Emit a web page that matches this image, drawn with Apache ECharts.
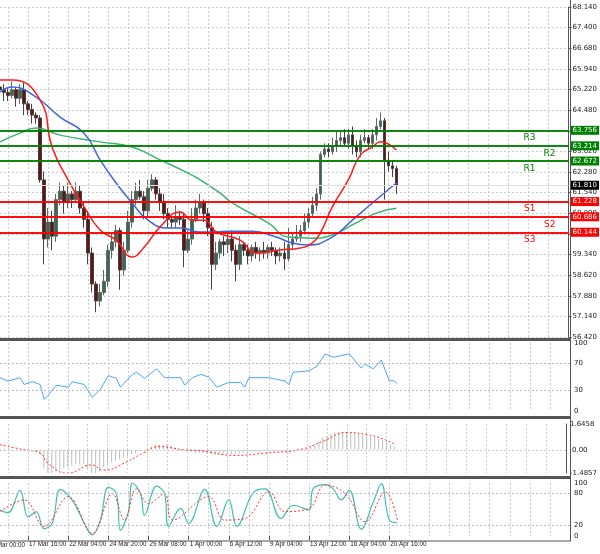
<!DOCTYPE html>
<html><head><meta charset="utf-8">
<script src="https://cdn.jsdelivr.net/npm/echarts@6/dist/echarts.min.js"></script>
<style>html,body{margin:0;padding:0;background:#fff}#c{width:600px;height:554px}</style>
</head><body><div id="c"></div>
<script>
const priceTicks=['56.420','57.140','57.880','58.620','59.340','60.060','60.800','61.540','62.280','63.020','63.740','64.480','65.220','65.940','66.680','67.400','68.140'];
const firstDateLabel='16 Mar 00:00';
const dateLabels=['17 Mar 16:00','22 Mar 04:00','24 Mar 20:00','29 Mar 08:00','1 Apr 00:00','6 Apr 12:00','9 Apr 04:00','13 Apr 12:00','16 Apr 04:00','20 Apr 16:00'];
const dateIdx=[7,17,27,37,47,57,67,77,87,97];
const firstOpen=65.3;
const closes=[65.2,65.1,65.0,65.2,64.9,65.2,64.7,64.5,64.3,64.2,62.0,59.9,60.5,60.0,61.3,61.6,61.2,61.5,61.3,61.6,61.0,60.6,59.4,58.3,57.7,58.0,58.4,59.5,59.8,60.2,58.8,59.5,60.5,61.3,61.6,61.4,60.9,61.7,62.0,61.5,61.2,60.8,60.6,60.5,60.7,60.6,59.5,59.9,60.6,61.0,61.2,60.8,60.3,59.0,59.4,59.8,59.7,59.9,59.5,59.0,59.7,59.5,59.3,59.6,59.4,59.5,59.4,59.6,59.5,59.3,59.4,59.2,59.7,59.9,60.0,60.2,60.5,60.8,61.1,61.5,62.9,63.1,63.0,63.2,63.4,63.5,63.3,63.6,63.2,63.0,63.4,63.5,63.3,63.6,63.9,64.1,62.7,62.5,62.4,61.8];
const wickUp=[0.1,0.2,0.15,0.3,0.1,0.2,0.25,0.1,0.2,0.1,0.1,0.3,0.5,0.4,0.2,0.3,0.2,0.4,0.1,0.3,0.2,0.2,0.3,0.2,0.1,0.3,0.4,0.2,0.3,0.2,0.1,0.3,0.4,0.3,0.3,0.4,0.2,0.3,0.2,0.1,0.2,0.3,0.2,0.1,0.4,0.2,0.2,0.3,0.4,0.3,0.3,0.1,0.2,0.2,0.4,0.1,0.2,0.2,0.3,0.2,0.3,0.1,0.2,0.1,0.2,0.1,0.3,0.1,0.2,0.1,0.2,0.4,0.6,0.2,0.4,0.2,0.3,0.2,0.3,0.2,0.1,0.2,0.2,0.3,0.3,0.2,0.3,0.2,0.3,0.2,0.2,0.3,0.1,0.2,0.3,0.3,0.1,0.3,0.2,0.1];
const wickDn=[0.2,0.3,0.2,0.1,0.3,0.2,0.4,0.2,0.3,0.2,0.1,0.9,0.3,0.5,0.2,0.2,0.4,0.2,0.3,0.1,0.2,0.3,0.4,0.3,0.4,0.2,0.1,0.2,0.3,0.2,0.7,0.2,0.1,0.2,0.2,0.1,0.3,0.2,0.1,0.2,0.3,0.2,0.3,0.2,0.2,0.2,0.6,0.1,0.2,0.1,0.2,0.3,0.3,0.9,0.2,0.2,0.4,0.3,0.4,0.6,0.2,0.2,0.3,0.2,0.2,0.3,0.2,0.2,0.2,0.3,0.2,0.4,0.1,0.2,0.1,0.2,0.1,0.2,0.1,0.2,0.2,0.1,0.2,0.1,0.2,0.2,0.1,0.2,0.3,0.2,0.2,0.1,0.2,0.2,0.2,0.1,1.4,0.2,0.3,0.3];
const maFast=[[0,65.55],[3,65.55],[10,64.84],[13,63.17],[17,62.0],[21,61.04],[25,60.22],[29,59.86],[33,59.26],[36,59.61],[40,60.33],[45,60.86],[48,60.57],[51,60.57],[54,60.15],[60,59.86],[64,59.4],[70,59.51],[75,59.58],[78,59.76],[80,60.11],[83,61.04],[87,62.0],[90,62.88],[93,63.17],[95,63.35],[99,63.06]];
const maMid=[[0,65.12],[3,65.3],[9,64.94],[15,64.23],[21,63.66],[25,62.71],[29,61.89],[33,61.18],[37,60.57],[42,60.29],[45,60.29],[50,60.15],[54,60.15],[57,60.18],[63,60.18],[69,59.97],[73,59.76],[77,59.69],[83,59.97],[88,60.57],[93,61.18],[99,61.89]];
const maSlow=[[0,63.35],[5,63.66],[9,63.84],[15,63.59],[25,63.35],[33,63.17],[40,62.71],[47,62.24],[50,62.0],[55,61.53],[58,61.18],[67,60.47],[72,59.97],[78,59.93],[83,60.04],[88,60.4],[94,60.82],[99,60.99]];
const levels=[['R3',63.756,'#008000',30],['R2',63.214,'#008000',10],['R1',62.672,'#008000',30],['S1',61.228,'#ff0000',30],['S2',60.686,'#ff0000',10],['S3',60.144,'#ff0000',30]];
const lastPrice=61.81;
const rsi=[[0,49],[2,44],[5,49],[6,39],[8,43],[10,39],[11,17],[12,23],[14,38],[17,35],[18,43],[21,39],[23,20],[25,32],[27,52],[29,48],[30,35],[33,54],[34,57],[36,48],[39,62],[41,49],[45,49],[46,38],[48,49],[50,54],[52,50],[54,35],[57,42],[60,42],[61,35],[62,49],[67,49],[71,44],[72,39],[73,57],[77,59],[79,66],[81,84],[83,79],[87,84],[90,63],[91,69],[93,62],[95,75],[97,44],[98,45],[99,40]];
const macdHist=[0.1,0.1,0.05,0.05,0,0,-0.05,-0.1,-0.1,-0.15,-0.3,-1.2,-1.5,-1.5,-1.4,-1.3,-1.2,-1.1,-1.0,-0.9,-0.95,-0.9,-1.2,-1.5,-1.5,-1.4,-1.1,-0.9,-0.8,-0.7,-0.6,-0.5,-0.4,-0.3,-0.2,-0.1,0,0.1,0.2,0.35,0.35,0.3,0.3,0.25,0.15,0.05,0,-0.1,-0.15,-0.2,-0.2,-0.2,-0.25,-0.3,-0.3,-0.3,-0.3,-0.3,-0.3,-0.25,-0.25,-0.2,-0.2,-0.15,-0.15,-0.15,-0.1,-0.1,-0.1,-0.1,-0.1,-0.1,-0.1,-0.05,0,0,0.05,0.1,0.2,0.3,0.5,0.8,0.9,1.0,1.1,1.1,1.1,1.1,1.1,1.05,1.0,0.95,0.9,0.85,0.8,0.7,0.6,0.5,0.35,0.2];
const macdSignal=[[0,0.32],[6,0],[10,-0.2],[12,-0.85],[17,-1.5],[23,-0.97],[26,-1.3],[32,-0.75],[36,-0.2],[40,0.2],[46,0],[50,-0.05],[59,-0.36],[67,-0.2],[75,0],[81,0.54],[87,1.1],[92,0.97],[96,0.7],[99,0.36]];
const stochMain=[[0,49],[2,44],[5,86],[7,36],[9,46],[11,14],[13,24],[15,88],[17,77],[19,55],[21,24],[23,2],[25,30],[27,92],[29,80],[30,11],[32,46],[33,100],[35,80],[36,39],[39,94],[41,80],[42,18],[45,52],[47,24],[51,88],[54,18],[57,68],[59,18],[63,81],[66,89],[70,33],[73,58],[77,49],[78,89],[81,97],[83,89],[85,68],[87,86],[90,13],[93,64],[95,99],[97,30],[99,25]];
const stochSig=[[0,46],[6,68],[11,18],[17,74],[23,5],[28,80],[31,30],[34,89],[37,61],[41,80],[43,30],[52,74],[56,30],[61,33],[67,83],[71,46],[77,52],[81,96],[86,80],[91,27],[96,83],[99,30]];

const N=143;
const cats=[];for(let i=0;i<N;i++){const k=dateIdx.indexOf(i);cats.push(k>=0?dateLabels[k]:'c'+i);}
const ohlc=closes.map((c,i)=>{const o=i===0?firstOpen:closes[i-1];return [o,c,Math.min(o,c)-wickDn[i],Math.max(o,c)+wickUp[i]];});
const sparse=(arr)=>{const d=new Array(closes.length).fill(null);arr.forEach(([i,v])=>d[i]=v);return d;};
const F='DejaVu Sans';
const FX='Liberation Sans';
const grids=[{top:7,height:330},{top:343,height:68},{top:424,height:49},{top:483,height:53}].map(g=>({left:0,right:30,top:g.top,height:g.height}));
const xAxes=grids.map((g,k)=>({type:'category',gridIndex:k,data:cats,boundaryGap:false,
 axisLine:{show:false},axisTick:{show:k===3,interval:(i)=>dateIdx.indexOf(i)>=0,length:4,lineStyle:{color:'#555'}},
 axisLabel:{show:k===3,interval:(i)=>dateIdx.indexOf(i)>=0,fontSize:6.3,fontFamily:FX,color:'#222',margin:5,align:'left',padding:[0,0,0,1],hideOverlap:false},
 splitLine:{show:true,interval:(i)=>i%5===2,lineStyle:{color:'#ccc',type:[2,2],width:1}}}));
const yAxes=[
 {gridIndex:0,type:'value',position:'right',min:56.42,max:68.14,interval:0.7325,
  axisLabel:{fontSize:7,fontFamily:F,color:'#222',margin:4,formatter:(v)=>{const k=Math.round((v-56.42)/0.7325);return priceTicks[k]||'';}},
  axisLine:{show:true,lineStyle:{color:'#555'}},axisTick:{show:true,length:3,lineStyle:{color:'#555'}},
  splitLine:{lineStyle:{color:'#ccc',type:[2,2]}}},
 {gridIndex:1,type:'value',position:'right',min:0,max:100,interval:10,
  axisLabel:{fontSize:7,fontFamily:F,color:'#222',margin:4,formatter:(v)=>[0,30,70,100].includes(v)?String(v):''},
  axisLine:{show:true,lineStyle:{color:'#555'}},axisTick:{show:false},splitLine:{show:false}},
 {gridIndex:2,type:'value',position:'right',min:-1.4857,max:1.6458,interval:3.1315,
  axisLabel:{fontSize:7,fontFamily:F,color:'#222',margin:4,formatter:(v)=>v.toFixed(4)},
  axisLine:{show:true,lineStyle:{color:'#555'}},axisTick:{show:false},splitLine:{show:false}},
 {gridIndex:3,type:'value',position:'right',min:0,max:100,interval:10,
  axisLabel:{fontSize:7,fontFamily:F,color:'#222',margin:4,formatter:(v)=>[0,20,80,100].includes(v)?String(v):''},
  axisLine:{show:true,lineStyle:{color:'#555'}},axisTick:{show:false},splitLine:{show:false}}
];
const tagLine=[];
levels.forEach(([n,v,c,pad])=>{
 tagLine.push({yAxis:v,lineStyle:{color:c,width:1.5,type:'solid'},label:{show:true,position:'end',distance:2,formatter:v.toFixed(3),color:'#fff',backgroundColor:c,fontSize:7,fontFamily:F,padding:[1,2]}});
 tagLine.push({yAxis:v,lineStyle:{color:c,width:1.5,type:'solid'},label:{show:true,position:'insideEndBottom',formatter:n,color:c,fontSize:9,fontFamily:F,padding:[0,pad,0,0],distance:3}});
});
tagLine.unshift({yAxis:lastPrice,lineStyle:{color:'#ddd',width:1,type:'solid'},label:{show:true,position:'end',distance:2,formatter:lastPrice.toFixed(3),color:'#fff',backgroundColor:'#000',fontSize:7,fontFamily:F,padding:[1,2]}});
const dashML=(vals)=>({silent:true,symbol:'none',lineStyle:{color:'#bbb',type:[2,2],width:1},label:{show:false},data:vals.map(v=>({yAxis:v}))});
const chart=echarts.init(document.getElementById('c'),null,{renderer:'canvas'});
chart.setOption({animation:false,grid:grids,xAxis:xAxes,yAxis:yAxes,
 series:[
  {type:'candlestick',xAxisIndex:0,yAxisIndex:0,data:ohlc,barWidth:3,
   itemStyle:{color:'#2f6f4e',color0:'#6e0f0f',borderColor:'#666',borderColor0:'#444',borderWidth:1},
   markLine:{silent:true,symbol:'none',animation:false,data:tagLine}},
  {type:'line',xAxisIndex:0,yAxisIndex:0,data:sparse(maSlow),connectNulls:true,smooth:true,symbol:'none',lineStyle:{color:'#3cb371',width:1.5},z:3},
  {type:'line',xAxisIndex:0,yAxisIndex:0,data:sparse(maMid),connectNulls:true,smooth:true,symbol:'none',lineStyle:{color:'#3b66e0',width:1.5},z:3},
  {type:'line',xAxisIndex:0,yAxisIndex:0,data:sparse(maFast),connectNulls:true,smooth:true,symbol:'none',lineStyle:{color:'#ff1a1a',width:1.5},z:3},
  {type:'line',xAxisIndex:1,yAxisIndex:1,data:sparse(rsi),connectNulls:true,symbol:'none',lineStyle:{color:'#4da3ff',width:1},markLine:dashML([70,30])},
  {type:'bar',xAxisIndex:2,yAxisIndex:2,data:macdHist,barWidth:1,itemStyle:{color:'#bdbdbd'},
   markLine:{silent:true,symbol:'none',lineStyle:{color:'#ccc',type:[2,2],width:1},data:[{yAxis:0,label:{show:true,position:'end',distance:6,formatter:'0.00',fontSize:7,fontFamily:F,color:'#222'}}]}},
  {type:'line',xAxisIndex:2,yAxisIndex:2,data:sparse(macdSignal),connectNulls:true,smooth:true,symbol:'none',lineStyle:{color:'#ff3030',width:1,type:[2,2]}},
  {type:'line',xAxisIndex:3,yAxisIndex:3,data:sparse(stochMain),connectNulls:true,smooth:0.4,symbol:'none',lineStyle:{color:'#3fbfb0',width:1.2},markLine:dashML([80,20])},
  {type:'line',xAxisIndex:3,yAxisIndex:3,data:sparse(stochSig),connectNulls:true,smooth:0.4,symbol:'none',lineStyle:{color:'#ff3030',width:1,type:[2,2]}}
 ],
 graphic:[
  {type:'rect',shape:{x:0,y:338,width:571,height:3},style:{fill:'#555'},z:100},
  {type:'rect',shape:{x:0,y:416,width:571,height:3},style:{fill:'#555'},z:100},
  {type:'rect',shape:{x:0,y:476,width:571,height:3},style:{fill:'#555'},z:100},
  {type:'line',shape:{x1:0,y1:541,x2:571,y2:541},style:{stroke:'#555',lineWidth:1},z:100},
  {type:'line',shape:{x1:570.5,y1:0,x2:570.5,y2:541},style:{stroke:'#555',lineWidth:1},z:100},
  {type:'text',x:-12,y:542,style:{text:firstDateLabel,fontSize:6.3,fontFamily:FX,fill:'#222'},z:100}
 ]
});
</script></body></html>
